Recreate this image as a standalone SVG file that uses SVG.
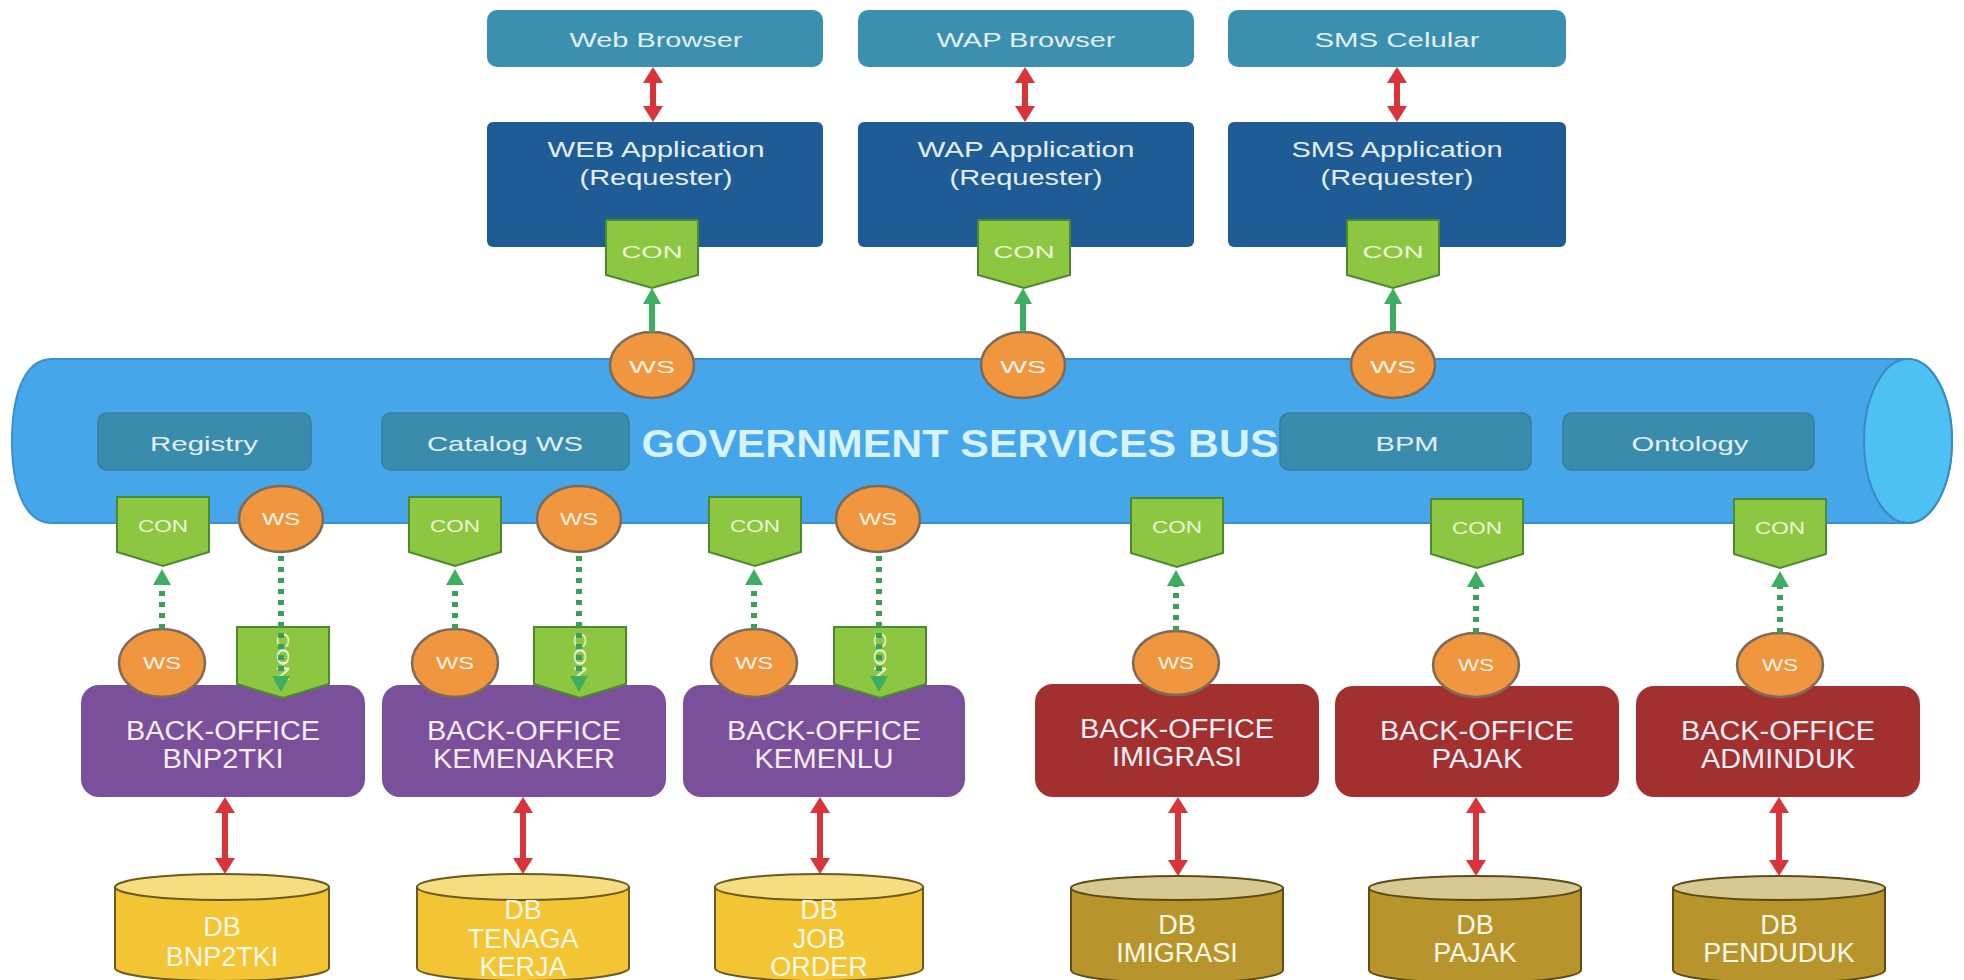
<svg xmlns="http://www.w3.org/2000/svg" width="1964" height="980" viewBox="0 0 1964 980">
<style>
text{font-family:"Liberation Sans",Arial,sans-serif;text-anchor:middle;}
.browser{fill:#3a90ae;}
.app{fill:#1f5b95;}
.inner{fill:#3a8cad;stroke:#347f9f;stroke-width:1.5;}
.lt{fill:#e4eff5;}
.con{fill:#8dc641;stroke:#4b8a2e;stroke-width:2;}
.ws{fill:#f0963f;stroke:#7d6a58;stroke-width:2.5;}
.cont{fill:#eef8dc;font-size:17px;}
.wst{fill:#fff3e6;font-size:16px;}
.bop{fill:#7b509b;}
.bor{fill:#a2302f;}
.bot{fill:#f5edf5;font-size:27px;}
.dby{fill:#f3c433;stroke:#6b5a1e;stroke-width:2;}
.dbyt{fill:#f6dd80;stroke:#6b5a1e;stroke-width:2;}
.dbo{fill:#b8952c;stroke:#5e4c16;stroke-width:2;}
.dbot{fill:#d8c992;stroke:#5e4c16;stroke-width:2;}
.dbt{fill:#fff8e6;font-size:27px;}
.red{stroke:#d8353b;stroke-width:6;fill:none;marker-start:url(#ra);marker-end:url(#ra);}
.gs{stroke:#3eae62;stroke-width:6;fill:none;marker-end:url(#ga);}
.gd{stroke:#3d9e5a;stroke-width:6;fill:none;stroke-dasharray:5 6;marker-end:url(#ga);}
</style>
<defs>
<marker id="ra" viewBox="0 0 16 20" refX="4" refY="10" markerWidth="16" markerHeight="20" markerUnits="userSpaceOnUse" orient="auto-start-reverse"><path d="M0,0 L16,10 L0,20 z" fill="#d8353b"/></marker>
<marker id="ga" viewBox="0 0 16 18" refX="4" refY="9" markerWidth="16" markerHeight="18" markerUnits="userSpaceOnUse" orient="auto"><path d="M0,0 L16,9 L0,18 z" fill="#3eae62"/></marker>
</defs>
<rect width="1964" height="980" fill="#ffffff"/>

<g id="bus">
<path d="M52,359 H1908 A44 82 0 0 1 1908 523 H52 C22,523 12,482 12,441 C12,400 22,359 52,359 Z" fill="#45a7ea" stroke="#3b8ed0" stroke-width="2"/>
<ellipse cx="1908" cy="441" rx="44" ry="82" fill="#4dc1f1" stroke="#3a8ac0" stroke-width="2"/>
<text x="960" y="457" font-family="'Open Sans','Liberation Sans',sans-serif" font-weight="bold" font-size="38" fill="#d6f3ff" textLength="637" lengthAdjust="spacingAndGlyphs">GOVERNMENT SERVICES BUS</text>
</g>
<g id="registry"><rect class="inner" x="98" y="413" width="213" height="57" rx="9"/><text class="lt" x="204" y="451" font-size="21" textLength="108" lengthAdjust="spacingAndGlyphs">Registry</text></g>
<g id="catalog"><rect class="inner" x="382" y="413" width="247" height="57" rx="9"/><text class="lt" x="505" y="451" font-size="21" textLength="156" lengthAdjust="spacingAndGlyphs">Catalog WS</text></g>
<g id="bpm"><rect class="inner" x="1280" y="413" width="251" height="57" rx="9"/><text class="lt" x="1407" y="451" font-size="21" textLength="63" lengthAdjust="spacingAndGlyphs">BPM</text></g>
<g id="ontology"><rect class="inner" x="1563" y="413" width="251" height="57" rx="9"/><text class="lt" x="1690" y="451" font-size="21" textLength="117" lengthAdjust="spacingAndGlyphs">Ontology</text></g>

<g id="browser-web"><rect class="browser" x="487" y="10" width="336" height="57" rx="10"/><text class="lt" x="656" y="47" font-size="20" textLength="173" lengthAdjust="spacingAndGlyphs">Web Browser</text></g>
<g id="browser-wap"><rect class="browser" x="858" y="10" width="336" height="57" rx="10"/><text class="lt" x="1026" y="47" font-size="20" textLength="179" lengthAdjust="spacingAndGlyphs">WAP Browser</text></g>
<g id="browser-sms"><rect class="browser" x="1228" y="10" width="338" height="57" rx="10"/><text class="lt" x="1397" y="47" font-size="20" textLength="165" lengthAdjust="spacingAndGlyphs">SMS Celular</text></g>

<g id="app-web"><rect class="app" x="487" y="122" width="336" height="125" rx="6"/><text class="lt" x="656" y="157" font-size="22" textLength="217" lengthAdjust="spacingAndGlyphs">WEB Application</text><text class="lt" x="656" y="185" font-size="22" textLength="153" lengthAdjust="spacingAndGlyphs">(Requester)</text></g>
<g id="app-wap"><rect class="app" x="858" y="122" width="336" height="125" rx="6"/><text class="lt" x="1026" y="157" font-size="22" textLength="217" lengthAdjust="spacingAndGlyphs">WAP Application</text><text class="lt" x="1026" y="185" font-size="22" textLength="153" lengthAdjust="spacingAndGlyphs">(Requester)</text></g>
<g id="app-sms"><rect class="app" x="1228" y="122" width="338" height="125" rx="6"/><text class="lt" x="1397" y="157" font-size="22" textLength="211" lengthAdjust="spacingAndGlyphs">SMS Application</text><text class="lt" x="1397" y="185" font-size="22" textLength="153" lengthAdjust="spacingAndGlyphs">(Requester)</text></g>

<g id="con-top-web"><path class="con" d="M606,220 H698 V275 L652,288 L606,275 Z"/><text class="cont" x="652" y="258" font-size="20" textLength="61" lengthAdjust="spacingAndGlyphs">CON</text></g>
<g id="con-top-wap"><path class="con" d="M978,220 H1070 V275 L1024,288 L978,275 Z"/><text class="cont" x="1024" y="258" font-size="20" textLength="61" lengthAdjust="spacingAndGlyphs">CON</text></g>
<g id="con-top-sms"><path class="con" d="M1347,220 H1439 V275 L1393,288 L1347,275 Z"/><text class="cont" x="1393" y="258" font-size="20" textLength="61" lengthAdjust="spacingAndGlyphs">CON</text></g>

<g id="ws-top-web"><ellipse class="ws" cx="652" cy="365" rx="42" ry="33"/><text class="wst" x="652" y="373" font-size="20" textLength="46" lengthAdjust="spacingAndGlyphs">WS</text></g>
<g id="ws-top-wap"><ellipse class="ws" cx="1023" cy="365" rx="42" ry="33"/><text class="wst" x="1023" y="373" font-size="20" textLength="46" lengthAdjust="spacingAndGlyphs">WS</text></g>
<g id="ws-top-sms"><ellipse class="ws" cx="1393" cy="365" rx="42" ry="33"/><text class="wst" x="1393" y="373" font-size="20" textLength="46" lengthAdjust="spacingAndGlyphs">WS</text></g>

<g id="bus-con-1"><path class="con" d="M117,497 H209 V552 L163,566 L117,552 Z"/><text class="cont" x="163" y="532" textLength="50" lengthAdjust="spacingAndGlyphs">CON</text></g>
<g id="bus-con-2"><path class="con" d="M409,497 H501 V552 L455,566 L409,552 Z"/><text class="cont" x="455" y="532" textLength="50" lengthAdjust="spacingAndGlyphs">CON</text></g>
<g id="bus-con-3"><path class="con" d="M709,497 H801 V552 L755,566 L709,552 Z"/><text class="cont" x="755" y="532" textLength="50" lengthAdjust="spacingAndGlyphs">CON</text></g>
<g id="bus-con-4"><path class="con" d="M1131,498 H1223 V553 L1177,567 L1131,553 Z"/><text class="cont" x="1177" y="533" textLength="50" lengthAdjust="spacingAndGlyphs">CON</text></g>
<g id="bus-con-5"><path class="con" d="M1431,499 H1523 V554 L1477,568 L1431,554 Z"/><text class="cont" x="1477" y="534" textLength="50" lengthAdjust="spacingAndGlyphs">CON</text></g>
<g id="bus-con-6"><path class="con" d="M1734,499 H1826 V554 L1780,568 L1734,554 Z"/><text class="cont" x="1780" y="534" textLength="50" lengthAdjust="spacingAndGlyphs">CON</text></g>

<g id="bus-ws-1"><ellipse class="ws" cx="281" cy="519" rx="42" ry="33"/><text class="wst" x="281" y="525" textLength="38" lengthAdjust="spacingAndGlyphs">WS</text></g>
<g id="bus-ws-2"><ellipse class="ws" cx="579" cy="519" rx="42" ry="33"/><text class="wst" x="579" y="525" textLength="38" lengthAdjust="spacingAndGlyphs">WS</text></g>
<g id="bus-ws-3"><ellipse class="ws" cx="878" cy="519" rx="42" ry="33"/><text class="wst" x="878" y="525" textLength="38" lengthAdjust="spacingAndGlyphs">WS</text></g>

<g id="bo-bnp2tki"><rect class="bop" x="81" y="685" width="284" height="112" rx="18"/><text class="bot" x="223" y="740" textLength="194" lengthAdjust="spacingAndGlyphs">BACK-OFFICE</text><text class="bot" x="223" y="768" textLength="121" lengthAdjust="spacingAndGlyphs">BNP2TKI</text></g>
<g id="bo-kemenaker"><rect class="bop" x="382" y="685" width="284" height="112" rx="18"/><text class="bot" x="524" y="740" textLength="194" lengthAdjust="spacingAndGlyphs">BACK-OFFICE</text><text class="bot" x="524" y="768" textLength="182" lengthAdjust="spacingAndGlyphs">KEMENAKER</text></g>
<g id="bo-kemenlu"><rect class="bop" x="683" y="685" width="282" height="112" rx="18"/><text class="bot" x="824" y="740" textLength="194" lengthAdjust="spacingAndGlyphs">BACK-OFFICE</text><text class="bot" x="824" y="768" textLength="139" lengthAdjust="spacingAndGlyphs">KEMENLU</text></g>
<g id="bo-imigrasi"><rect class="bor" x="1035" y="684" width="284" height="113" rx="18"/><text class="bot" x="1177" y="738" textLength="194" lengthAdjust="spacingAndGlyphs">BACK-OFFICE</text><text class="bot" x="1177" y="766" textLength="130" lengthAdjust="spacingAndGlyphs">IMIGRASI</text></g>
<g id="bo-pajak"><rect class="bor" x="1335" y="686" width="284" height="111" rx="18"/><text class="bot" x="1477" y="740" textLength="194" lengthAdjust="spacingAndGlyphs">BACK-OFFICE</text><text class="bot" x="1477" y="768" textLength="91" lengthAdjust="spacingAndGlyphs">PAJAK</text></g>
<g id="bo-adminduk"><rect class="bor" x="1636" y="686" width="284" height="111" rx="18"/><text class="bot" x="1778" y="740" textLength="194" lengthAdjust="spacingAndGlyphs">BACK-OFFICE</text><text class="bot" x="1778" y="768" textLength="154" lengthAdjust="spacingAndGlyphs">ADMINDUK</text></g>

<g id="bo-ws-1"><ellipse class="ws" cx="162" cy="663" rx="43" ry="34"/><text class="wst" x="162" y="669" textLength="38" lengthAdjust="spacingAndGlyphs">WS</text></g>
<g id="bo-ws-2"><ellipse class="ws" cx="455" cy="663" rx="43" ry="34"/><text class="wst" x="455" y="669" textLength="38" lengthAdjust="spacingAndGlyphs">WS</text></g>
<g id="bo-ws-3"><ellipse class="ws" cx="754" cy="663" rx="43" ry="34"/><text class="wst" x="754" y="669" textLength="38" lengthAdjust="spacingAndGlyphs">WS</text></g>
<g id="bo-ws-4"><ellipse class="ws" cx="1176" cy="663" rx="43" ry="32"/><text class="wst" x="1176" y="669" textLength="36" lengthAdjust="spacingAndGlyphs">WS</text></g>
<g id="bo-ws-5"><ellipse class="ws" cx="1476" cy="665" rx="43" ry="32"/><text class="wst" x="1476" y="671" textLength="36" lengthAdjust="spacingAndGlyphs">WS</text></g>
<g id="bo-ws-6"><ellipse class="ws" cx="1780" cy="665" rx="43" ry="32"/><text class="wst" x="1780" y="671" textLength="36" lengthAdjust="spacingAndGlyphs">WS</text></g>

<g id="bo-con-1"><path class="con" d="M237,627 H329 V684 L283,698 L237,684 Z"/><text class="cont" transform="translate(283,657) rotate(90)" x="0" y="6" textLength="50" lengthAdjust="spacingAndGlyphs">CON</text></g>
<g id="bo-con-2"><path class="con" d="M534,627 H626 V684 L580,698 L534,684 Z"/><text class="cont" transform="translate(580,657) rotate(90)" x="0" y="6" textLength="50" lengthAdjust="spacingAndGlyphs">CON</text></g>
<g id="bo-con-3"><path class="con" d="M834,627 H926 V684 L880,698 L834,684 Z"/><text class="cont" transform="translate(880,657) rotate(90)" x="0" y="6" textLength="50" lengthAdjust="spacingAndGlyphs">CON</text></g>

<g id="db-bnp2tki"><path class="dby" d="M115,887 V968 A107 13 0 0 0 329 968 V887 Z"/><ellipse class="dbyt" cx="222" cy="887" rx="107" ry="13"/><text class="dbt" x="222" y="936">DB</text><text class="dbt" x="222" y="966">BNP2TKI</text></g>
<g id="db-tenaga"><path class="dby" d="M417,887 V968 A106 13 0 0 0 629 968 V887 Z"/><ellipse class="dbyt" cx="523" cy="887" rx="106" ry="13"/><text class="dbt" x="523" y="919">DB</text><text class="dbt" x="523" y="948">TENAGA</text><text class="dbt" x="523" y="976">KERJA</text></g>
<g id="db-job"><path class="dby" d="M715,887 V968 A104 13 0 0 0 923 968 V887 Z"/><ellipse class="dbyt" cx="819" cy="887" rx="104" ry="13"/><text class="dbt" x="819" y="919">DB</text><text class="dbt" x="819" y="948">JOB</text><text class="dbt" x="819" y="976">ORDER</text></g>
<g id="db-imigrasi"><path class="dbo" d="M1071,888 V970 A106 13 0 0 0 1283 970 V888 Z"/><ellipse class="dbot" cx="1177" cy="888" rx="106" ry="12"/><text class="dbt" x="1177" y="934">DB</text><text class="dbt" x="1177" y="962">IMIGRASI</text></g>
<g id="db-pajak"><path class="dbo" d="M1369,888 V970 A106 13 0 0 0 1581 970 V888 Z"/><ellipse class="dbot" cx="1475" cy="888" rx="106" ry="12"/><text class="dbt" x="1475" y="934">DB</text><text class="dbt" x="1475" y="962">PAJAK</text></g>
<g id="db-penduduk"><path class="dbo" d="M1673,888 V970 A106 13 0 0 0 1885 970 V888 Z"/><ellipse class="dbot" cx="1779" cy="888" rx="106" ry="12"/><text class="dbt" x="1779" y="934">DB</text><text class="dbt" x="1779" y="962">PENDUDUK</text></g>

<g id="connectors">
<line class="red" x1="653" y1="79" x2="653" y2="110"/>
<line class="red" x1="1025" y1="79" x2="1025" y2="110"/>
<line class="red" x1="1397" y1="79" x2="1397" y2="110"/>
<line class="gs" x1="652" y1="332" x2="652" y2="300"/>
<line class="gs" x1="1023" y1="332" x2="1023" y2="300"/>
<line class="gs" x1="1393" y1="332" x2="1393" y2="300"/>
<line class="gd" x1="162" y1="629" x2="162" y2="581"/>
<line class="gd" x1="455" y1="629" x2="455" y2="581"/>
<line class="gd" x1="754" y1="629" x2="754" y2="581"/>
<line class="gd" x1="1176" y1="631" x2="1176" y2="582"/>
<line class="gd" x1="1476" y1="633" x2="1476" y2="583"/>
<line class="gd" x1="1780" y1="633" x2="1780" y2="583"/>
<line class="gd" x1="281" y1="556" x2="281" y2="680"/>
<line class="gd" x1="579" y1="556" x2="579" y2="680"/>
<line class="gd" x1="879" y1="556" x2="879" y2="680"/>
<line class="red" x1="225" y1="809" x2="225" y2="862"/>
<line class="red" x1="523" y1="809" x2="523" y2="862"/>
<line class="red" x1="820" y1="809" x2="820" y2="862"/>
<line class="red" x1="1178" y1="809" x2="1178" y2="864"/>
<line class="red" x1="1476" y1="809" x2="1476" y2="864"/>
<line class="red" x1="1779" y1="809" x2="1779" y2="864"/>
</g>
</svg>
